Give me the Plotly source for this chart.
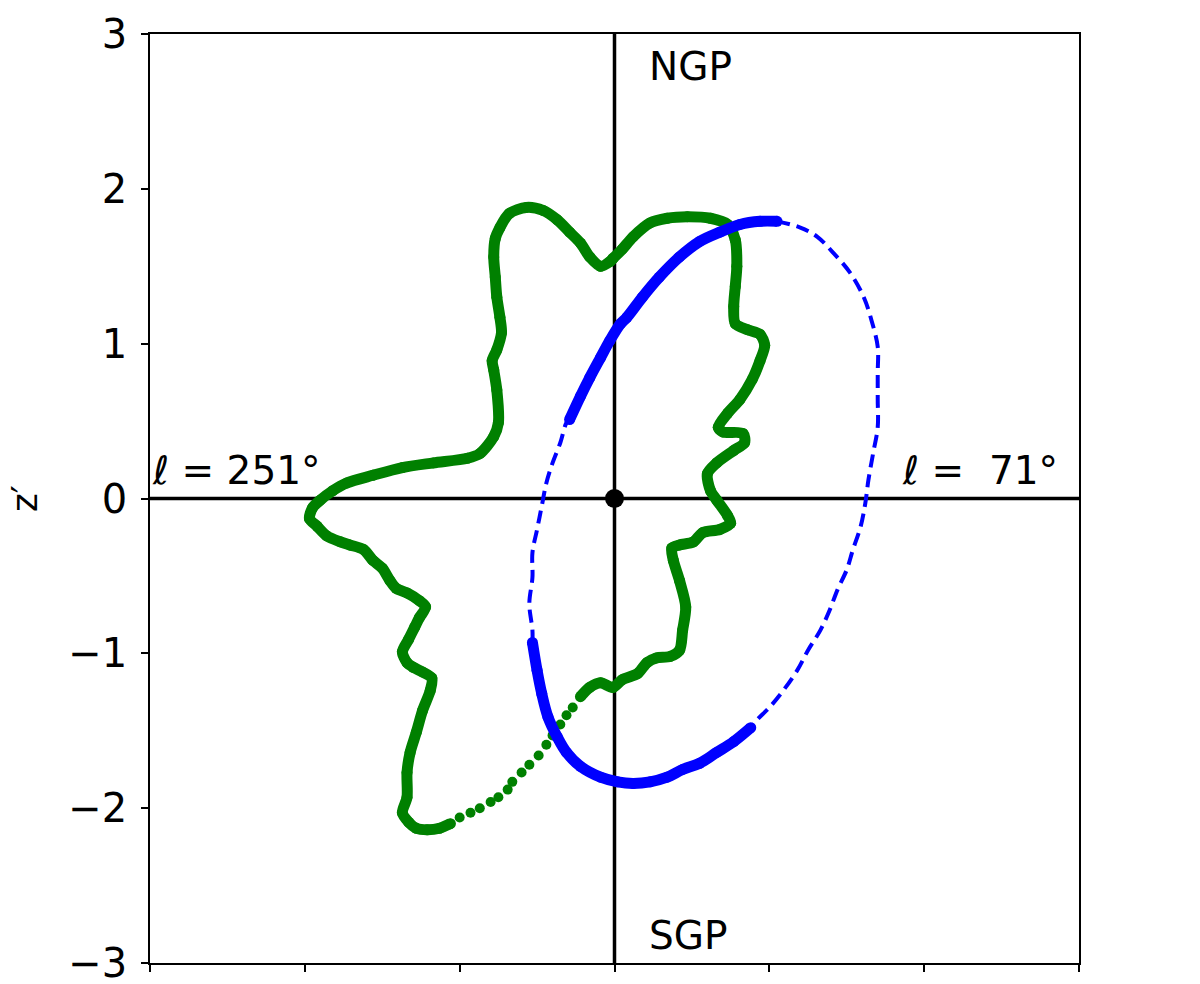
import plotly.graph_objects as go

# ---- data ----
green_x = [-1.06, -1.13, -1.21, -1.28, -1.33, -1.37, -1.34, -1.34, -1.32, -1.28, -1.24, -1.19, -1.18,
           -1.24, -1.30, -1.34, -1.37, -1.33, -1.29, -1.26, -1.22, -1.26, -1.34, -1.41, -1.45, -1.50,
           -1.56, -1.62, -1.71, -1.77, -1.86, -1.92, -1.97, -1.95, -1.90, -1.82, -1.73, -1.56, -1.37,
           -1.17, -0.95, -0.87, -0.78, -0.75, -0.76, -0.78, -0.79, -0.76, -0.73, -0.74, -0.76, -0.77,
           -0.78, -0.77, -0.74, -0.68, -0.57, -0.46, -0.37, -0.29, -0.22, -0.16, -0.09, -0.03, -0.01,
           0.05, 0.12, 0.23, 0.34, 0.47, 0.62, 0.73, 0.78, 0.79, 0.78, 0.77, 0.78, 0.86, 0.94, 0.97,
           0.94, 0.89, 0.81, 0.73, 0.67, 0.70, 0.83, 0.84, 0.77, 0.66, 0.60, 0.62, 0.66, 0.73, 0.75,
           0.68, 0.57, 0.51, 0.42, 0.37, 0.38, 0.42, 0.46, 0.44, 0.42, 0.36, 0.27, 0.21, 0.15, 0.05,
           -0.01, -0.09, -0.16, -0.22]
green_y = [-2.10, -2.13, -2.14, -2.13, -2.09, -2.03, -1.93, -1.77, -1.64, -1.51, -1.37, -1.24, -1.16,
           -1.12, -1.09, -1.06, -0.99, -0.91, -0.83, -0.77, -0.70, -0.66, -0.61, -0.58, -0.53, -0.45,
           -0.40, -0.33, -0.30, -0.28, -0.24, -0.18, -0.13, -0.06, -0.01, 0.05, 0.10, 0.15, 0.20,
           0.23, 0.26, 0.29, 0.40, 0.49, 0.70, 0.83, 0.89, 0.96, 1.07, 1.17, 1.30, 1.43,
           1.56, 1.68, 1.75, 1.84, 1.88, 1.86, 1.80, 1.72, 1.65, 1.56, 1.50, 1.53, 1.55,
           1.61, 1.69, 1.78, 1.81, 1.82, 1.81, 1.77, 1.67, 1.50, 1.37, 1.24, 1.13, 1.09, 1.06, 0.99,
           0.89, 0.77, 0.64, 0.55, 0.46, 0.43, 0.42, 0.36, 0.31, 0.23, 0.16, 0.05, -0.01, -0.11, -0.16,
           -0.20, -0.22, -0.28, -0.30, -0.32, -0.40, -0.53, -0.70, -0.85, -0.98, -1.02, -1.03, -1.06, -1.13, -1.17,
           -1.22, -1.19, -1.22, -1.28]

green_sparse_x = [-0.27, -0.31, -0.35, -0.40, -0.44, -0.49, -0.55, -0.60, -0.66, -0.69, -0.75, -0.80,
                  -0.87, -0.93, -1.00, -1.06]
green_sparse_y = [-1.35, -1.40, -1.46, -1.53, -1.59, -1.66, -1.72, -1.77, -1.83, -1.88, -1.93, -1.96,
                  -2.00, -2.03, -2.06, -2.10]

blue_upper_x = [-0.29, -0.22, -0.16, -0.09, -0.03, 0.04, 0.08, 0.18, 0.29, 0.42, 0.55, 0.68, 0.81, 0.94, 1.05]
blue_upper_y = [0.51, 0.66, 0.78, 0.91, 1.02, 1.13, 1.17, 1.30, 1.43, 1.56, 1.66, 1.72, 1.77, 1.79, 1.79]

blue_right_x = [1.05, 1.20, 1.31, 1.41, 1.52, 1.61, 1.66, 1.70, 1.70, 1.70, 1.70, 1.67, 1.64, 1.62,
                1.59, 1.54, 1.50, 1.44, 1.39, 1.33, 1.25, 1.18, 1.09, 1.00, 0.92, 0.88]
blue_right_y = [1.79, 1.75, 1.69, 1.59, 1.46, 1.30, 1.15, 0.98, 0.81, 0.64, 0.46, 0.29, 0.12, -0.03,
                -0.18, -0.33, -0.46, -0.59, -0.72, -0.85, -0.98, -1.11, -1.24, -1.35, -1.43, -1.48]

blue_lower_x = [0.88, 0.77, 0.66, 0.55, 0.44, 0.34, 0.23, 0.12, 0.02, -0.09, -0.22, -0.31, -0.37,
                -0.43, -0.47, -0.50, -0.53]
blue_lower_y = [-1.48, -1.57, -1.64, -1.71, -1.75, -1.80, -1.83, -1.84, -1.83, -1.80, -1.73, -1.64,
                -1.54, -1.41, -1.26, -1.11, -0.93]

blue_left_x = [-0.53, -0.53, -0.55, -0.53, -0.53, -0.50, -0.47, -0.44, -0.40, -0.35, -0.31, -0.29]
blue_left_y = [-0.93, -0.85, -0.68, -0.51, -0.35, -0.20, -0.05, 0.10, 0.23, 0.36, 0.49, 0.51]

y_ticks = [-3, -2, -1, 0, 1, 2, 3]
x_ticks = [-3, -2, -1, 0, 1, 2, 3]
axis_span = [-3, 3]

GREEN = "#008000"
BLUE = "#0000ff"
FONT = "DejaVu Sans"

fig = go.Figure()

# axes through the origin
fig.add_trace(go.Scatter(x=[0, 0], y=axis_span, mode="lines",
                         line=dict(color="black", width=3.5), hoverinfo="skip"))
fig.add_trace(go.Scatter(x=axis_span, y=[0, 0], mode="lines",
                         line=dict(color="black", width=3.5), hoverinfo="skip"))

# blue dashed parts
dash_line = dict(color=BLUE, width=4, dash="13px,7px", shape="spline")
fig.add_trace(go.Scatter(x=blue_right_x, y=blue_right_y, mode="lines", line=dash_line))
fig.add_trace(go.Scatter(x=blue_left_x, y=blue_left_y, mode="lines", line=dash_line))

# green curve
fig.add_trace(go.Scatter(x=green_x, y=green_y, mode="lines+markers",
                         line=dict(color=GREEN, width=11, shape="spline", smoothing=0.8),
                         marker=dict(color=GREEN, size=11)))
fig.add_trace(go.Scatter(x=green_sparse_x, y=green_sparse_y, mode="markers",
                         marker=dict(color=GREEN, size=10)))

# blue solid parts
fig.add_trace(go.Scatter(x=blue_upper_x, y=blue_upper_y, mode="lines+markers",
                         line=dict(color=BLUE, width=11, shape="spline"),
                         marker=dict(color=BLUE, size=11)))
fig.add_trace(go.Scatter(x=blue_lower_x, y=blue_lower_y, mode="lines+markers",
                         line=dict(color=BLUE, width=11, shape="spline"),
                         marker=dict(color=BLUE, size=11)))

# origin
fig.add_trace(go.Scatter(x=[0], y=[0], mode="markers",
                         marker=dict(color="black", size=19)))

ann_font = dict(family=FONT, size=39, color="black")
fig.add_annotation(x=0.21, y=2.79, text="NGP", showarrow=False, xanchor="left", yanchor="middle", font=ann_font)
fig.add_annotation(x=0.21, y=-2.82, text="SGP", showarrow=False, xanchor="left", yanchor="middle", font=ann_font)
fig.add_annotation(x=-3.0, y=0.18, text="ℓ = 251°", showarrow=False, xanchor="left", yanchor="middle", font=ann_font)
fig.add_annotation(x=2.88, y=0.18, text="ℓ =  71°", showarrow=False, xanchor="right", yanchor="middle", font=ann_font)

fig.update_layout(
    width=1200, height=984,
    margin=dict(l=150, r=121, t=34, b=21),
    paper_bgcolor="white", plot_bgcolor="white",
    showlegend=False,
    font=dict(family=FONT, size=40, color="black"),
)
fig.update_xaxes(range=axis_span, tickvals=x_ticks, showticklabels=False,
                 ticks="outside", ticklen=7, tickwidth=1.5, tickcolor="black",
                 showline=True, linecolor="black", linewidth=1.5, mirror=True,
                 showgrid=False, zeroline=False, automargin=False)
fig.update_yaxes(range=axis_span, tickvals=y_ticks,
                 ticks="outside", ticklen=7, tickwidth=1.5, tickcolor="black",
                 showline=True, linecolor="black", linewidth=1.5, mirror=True,
                 showgrid=False, zeroline=False, automargin=False, ticklabelstandoff=6,
                 ticklabeloverflow="allow",
                 title=dict(text="z′", font=dict(family=FONT, size=36), standoff=20))

# remove the default 8px page margin so the figure fills the 1200x984 window
fig.write_html("out.html",
               config={"displayModeBar": False},
               post_script="document.body.style.margin='0px';document.body.style.overflow='hidden';")
